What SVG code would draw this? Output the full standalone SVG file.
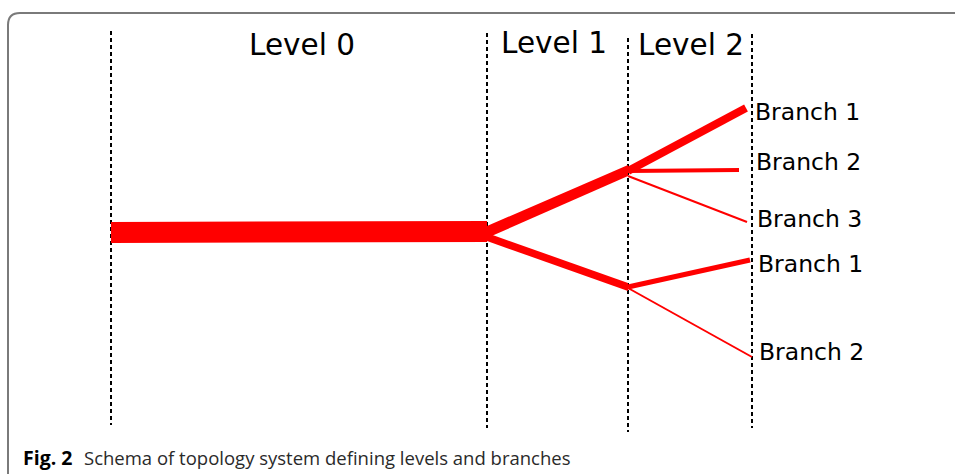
<svg xmlns="http://www.w3.org/2000/svg" width="955" height="474" viewBox="0 0 955 474">
<style>
.frame{fill:none;stroke:#7a7a7a;stroke-width:2}
.guide{stroke:#000;stroke-width:2;stroke-dasharray:4,3;fill:none}
.lvl{font-family:"DejaVu Sans",Verdana,sans-serif;font-size:29.5px;fill:#000}
.br{font-family:"DejaVu Sans",Verdana,sans-serif;font-size:23.5px;fill:#000}
.seg{stroke:#ff0000;fill:none;stroke-linecap:butt}
.cap{font-family:"Open Sans","Noto Sans",sans-serif;font-size:18.5px;fill:#2a2a2a}
</style>
<rect width="955" height="474" fill="#fff"/>
<path class="frame" d="M8,474 V25 Q8,13 20,13 H955"/>
<g id="guides">
<line class="guide" x1="111" y1="31" x2="111" y2="425"/>
<line class="guide" x1="487" y1="33" x2="487" y2="428"/>
<line class="guide" x1="628" y1="38" x2="628" y2="432"/>
<line class="guide" x1="752" y1="34" x2="752" y2="428"/>
</g>
<g id="labels">
<text class="lvl" x="249" y="55">Level 0</text>
<text class="lvl" x="501" y="53">Level 1</text>
<text class="lvl" x="638" y="55">Level 2</text>
</g>
<g id="connectors">
<polygon fill="#ff0000" points="111,222 487,221 487,242 111,243"/>
<polygon fill="#ff0000" points="487,226 628,165 628,176 487,238"/>
<polygon fill="#ff0000" points="487,233 628,283 628,291 487,241"/>
<line class="seg" x1="628" y1="171" x2="746" y2="108" stroke-width="8"/>
<line class="seg" x1="628" y1="171" x2="739" y2="170" stroke-width="4"/>
<line class="seg" x1="628" y1="176" x2="747" y2="222" stroke-width="2"/>
<line class="seg" x1="628" y1="287" x2="750" y2="260" stroke-width="5"/>
<line class="seg" x1="628" y1="288" x2="752" y2="357" stroke-width="2"/>
</g>
<g id="branches">
<text class="br" x="755" y="120">Branch 1</text>
<text class="br" x="756" y="170">Branch 2</text>
<text class="br" x="757" y="227">Branch 3</text>
<text class="br" x="758" y="272">Branch 1</text>
<text class="br" x="759" y="360">Branch 2</text>
</g>
<text class="cap" x="23" y="465"><tspan font-weight="bold" font-size="19.5" fill="#000">Fig. 2</tspan><tspan x="84">Schema of topology system defining levels and branches</tspan></text>
</svg>
